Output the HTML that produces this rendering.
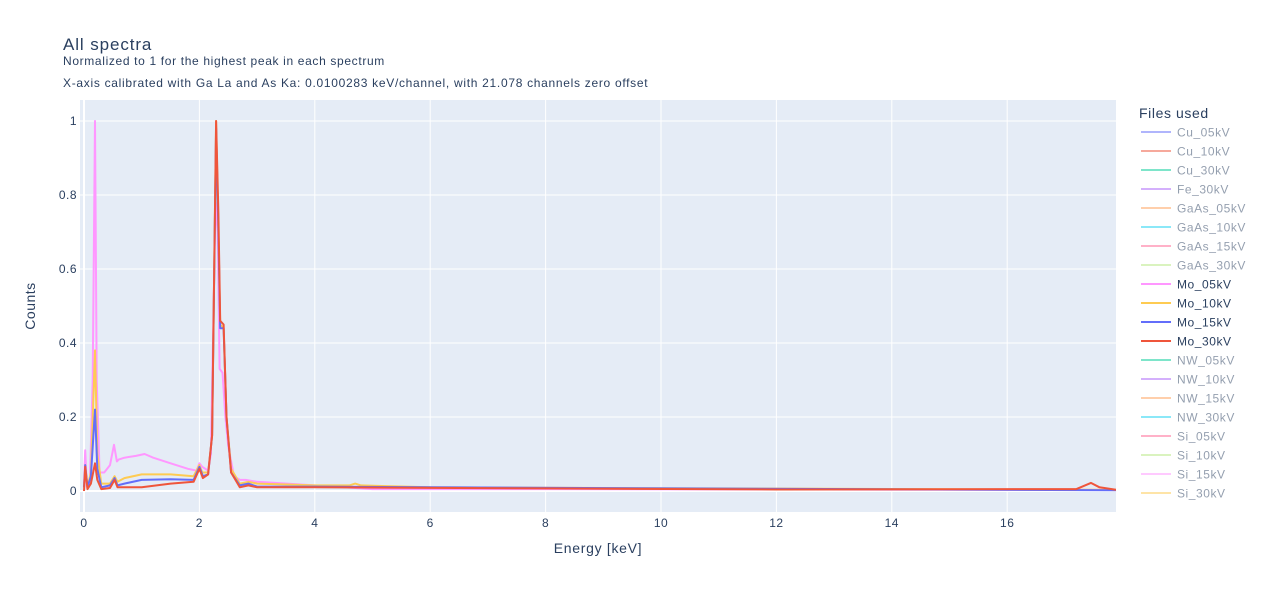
<!DOCTYPE html>
<html><head><meta charset="utf-8"><style>
body{margin:0;background:#fff;font-family:"Liberation Sans",Arial,sans-serif;}
svg text{font-family:"Liberation Sans",Arial,sans-serif;}
</style></head><body>
<svg id="c" width="1264" height="592" xmlns="http://www.w3.org/2000/svg">
<rect x="0" y="0" width="1264" height="592" fill="#fff"/>
<rect x="80" y="100" width="1036" height="412" fill="#E5ECF6"/>
<g id="grid"></g>
<g id="series" clip-path="url(#clip)"></g>
<defs><clipPath id="clip"><rect x="80" y="100" width="1036" height="412"/></clipPath></defs>
<g id="ticks"></g>
<text x="63" y="50" font-size="17" letter-spacing="0.9" fill="#2a3f5f">All spectra</text>
<text x="63" y="65" font-size="12" letter-spacing="0.65" fill="#2a3f5f">Normalized to 1 for the highest peak in each spectrum</text>
<text x="63" y="87" font-size="12" letter-spacing="0.7" fill="#2a3f5f">X-axis calibrated with Ga La and As Ka: 0.0100283 keV/channel, with 21.078 channels zero offset</text>
<text x="598" y="553" font-size="14" letter-spacing="0.7" fill="#2a3f5f" text-anchor="middle">Energy [keV]</text>
<text x="35" y="306" font-size="14" letter-spacing="0.5" fill="#2a3f5f" text-anchor="middle" transform="rotate(-90 35 306)">Counts</text>
<text x="1139" y="118" font-size="14" letter-spacing="0.6" fill="#2a3f5f">Files used</text>
<g id="legend"></g>
</svg>
<script>
const xTicks=[0,2,4,6,8,10,12,14,16];
const yTicks=[0,0.2,0.4,0.6,0.8,1];
const yTickLabels=["0","0.2","0.4","0.6","0.8","1"];
const legendNames=["Cu_05kV","Cu_10kV","Cu_30kV","Fe_30kV","GaAs_05kV","GaAs_10kV","GaAs_15kV","GaAs_30kV","Mo_05kV","Mo_10kV","Mo_15kV","Mo_30kV","NW_05kV","NW_10kV","NW_15kV","NW_30kV","Si_05kV","Si_10kV","Si_15kV","Si_30kV"];
const legendColors=["#636EFA","#EF553B","#00CC96","#AB63FA","#FFA15A","#19D3F3","#FF6692","#B6E880","#FF97FF","#FECB52","#636EFA","#EF553B","#00CC96","#AB63FA","#FFA15A","#19D3F3","#FF6692","#B6E880","#FF97FF","#FECB52"];
const legendVisible=[0,0,0,0,0,0,0,0,1,1,1,1,0,0,0,0,0,0,0,0];
const mo05E=[0,0.02,0.05,0.1,0.15,0.19,0.22,0.27,0.35,0.45,0.52,0.57,0.6,0.7,0.9,1.05,1.2,1.5,1.8,1.95,2.0,2.05,2.15,2.2,2.27,2.31,2.35,2.4,2.45,2.5,2.6,2.7,2.8,3,4,5,8,17.9];
const mo05V=[0.02,0.11,0.01,0.02,0.3,1.0,0.3,0.05,0.05,0.07,0.125,0.08,0.085,0.09,0.095,0.1,0.09,0.075,0.06,0.055,0.075,0.065,0.055,0.1,0.7,0.78,0.33,0.32,0.2,0.12,0.04,0.03,0.03,0.025,0.015,0.005,0.005,0.003];
const mo10E=[0,0.02,0.06,0.12,0.19,0.23,0.3,0.45,0.53,0.58,0.7,1.0,1.5,1.9,2.0,2.05,2.15,2.22,2.29,2.33,2.36,2.42,2.47,2.55,2.7,2.85,3,4,4.6,4.7,4.8,6,17.9];
const mo10V=[0.01,0.07,0.01,0.05,0.38,0.1,0.02,0.02,0.04,0.025,0.035,0.045,0.045,0.04,0.07,0.05,0.05,0.15,1.0,0.7,0.45,0.44,0.2,0.06,0.02,0.025,0.02,0.015,0.015,0.02,0.015,0.01,0.003];
const mo15E=[0,0.02,0.06,0.12,0.19,0.23,0.3,0.45,0.53,0.58,0.7,1.0,1.5,1.9,2.0,2.06,2.15,2.22,2.29,2.33,2.36,2.42,2.47,2.55,2.7,2.85,3,4,6,17.9];
const mo15V=[0.01,0.07,0.01,0.04,0.22,0.06,0.01,0.015,0.035,0.015,0.02,0.03,0.032,0.03,0.065,0.04,0.045,0.15,0.98,0.7,0.44,0.44,0.2,0.05,0.015,0.02,0.012,0.012,0.01,0.002];
const mo30E=[0,0.02,0.06,0.12,0.19,0.23,0.3,0.45,0.53,0.58,0.7,1.0,1.5,1.9,2.0,2.06,2.15,2.22,2.29,2.33,2.36,2.42,2.47,2.55,2.7,2.85,3,4,8,12,17.2,17.45,17.6,17.9];
const mo30V=[0,0.065,0.005,0.02,0.075,0.03,0.005,0.008,0.03,0.01,0.01,0.01,0.02,0.025,0.06,0.035,0.045,0.15,1.0,0.75,0.46,0.45,0.2,0.05,0.01,0.015,0.01,0.01,0.007,0.004,0.005,0.022,0.01,0.003];

const NS="http://www.w3.org/2000/svg";
const X0=84,KX=57.7,Y0=491,KY=370;
function sx(e){return X0+e*KX;}
function sy(v){return Y0-v*KY;}
function mk(t,a,p){const el=document.createElementNS(NS,t);for(const k in a)el.setAttribute(k,a[k]);p.appendChild(el);return el;}
const grid=document.getElementById('grid'),ticks=document.getElementById('ticks');
xTicks.forEach(t=>{
 const l=mk('line',{x1:sx(t),x2:sx(t),y1:100,y2:512,stroke:'#fff','stroke-width':t===0?2:1},grid);
 
 
 const tx=mk('text',{x:sx(t),y:527,'font-size':12,'letter-spacing':0.5,fill:'#2a3f5f','text-anchor':'middle'},ticks);
 tx.textContent=t;
 
 
});
yTicks.forEach((t,i)=>{
 const l=mk('line',{x1:80,x2:1116,y1:sy(t),y2:sy(t),stroke:'#fff','stroke-width':t===0?2:1},grid);
 
 
 const tx=mk('text',{x:77,y:sy(t)+4,'font-size':12,'letter-spacing':0.5,fill:'#2a3f5f','text-anchor':'end'},ticks);
 tx.textContent=yTickLabels[i];
 
 
});
const ser=document.getElementById('series');
const sets=[[mo05E,mo05V,'#FF97FF','mo-05kv-line'],[mo10E,mo10V,'#FECB52','mo-10kv-line'],[mo15E,mo15V,'#636EFA','mo-15kv-line'],[mo30E,mo30V,'#EF553B','mo-30kv-line']];
sets.forEach(s=>{
 const d=s[0].map((e,i)=>(i?'L':'M')+sx(e).toFixed(1)+','+sy(s[1][i]).toFixed(1)).join('');
 const p=mk('path',{d:d,fill:'none',stroke:s[2],'stroke-width':2,'stroke-linejoin':'round'},ser);
 
 
});
const lg=document.getElementById('legend');
legendNames.forEach((n,i)=>{
 const y=132+i*19;
 const g=mk('g',{opacity:legendVisible[i]?1:0.5},lg);
 
 
 mk('line',{x1:1141,x2:1171,y1:y,y2:y,stroke:legendColors[i],'stroke-width':2},g);
 const t=mk('text',{x:1177,y:y+4.5,'font-size':12,'letter-spacing':0.55,fill:'#2a3f5f'},g);
 t.textContent=n;
});
</script>
</body></html>
